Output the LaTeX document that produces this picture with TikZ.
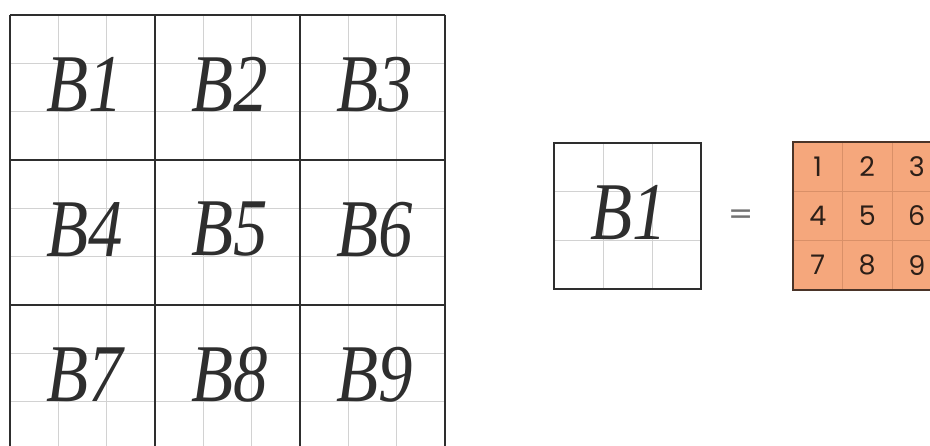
\documentclass[tikz,border=0pt]{standalone}
\usepackage{fontspec}
\newfontfamily\digitfont{Poppins}
\newfontfamily\eqfont{DejaVu Sans}
\newfontfamily\bfont{Liberation Serif}
\definecolor{gridline}{HTML}{2E2E2E}
\definecolor{subline}{HTML}{D2D2D2}
\definecolor{cellorange}{HTML}{F5A77C}
\definecolor{orangeline}{HTML}{D99068}
\definecolor{brownline}{HTML}{4A3428}
\tikzset{
  bigtext/.style={font=\bfont\itshape\fontsize{82}{84}\selectfont, text=black!82, inner sep=0pt},
  digit/.style={font=\digitfont\fontsize{27}{29}\selectfont, text=brownline!60!black, inner sep=0pt},
  thickgrid/.style={draw=gridline, line width=2pt},
  thingrid/.style={draw=subline, line width=1pt},
}
\begin{document}
\begin{tikzpicture}[x=1pt,y=-1pt]
\useasboundingbox (0,0) rectangle (930,446);
\fill[white] (0,0) rectangle (930,446);
\clip (0,0) rectangle (930,446);
% ---- big 3x3 grid ----
\def\cs{145}
\foreach \k in {1,2,4,5,7,8} {
  \draw[thingrid] ({10+\k*\cs/3}, 15) -- ({10+\k*\cs/3}, 450);
  \draw[thingrid] (10, {15+\k*\cs/3}) -- (445, {15+\k*\cs/3});
}
\foreach \k in {0,1,2,3} {
  \draw[thickgrid] ({10+\k*\cs}, 15) -- ({10+\k*\cs}, 450);
  \draw[thickgrid] (10, {15+\k*\cs}) -- (445, {15+\k*\cs});
}
\foreach \r in {0,1,2} {
  \foreach \c in {0,1,2} {
    \pgfmathtruncatemacro{\n}{\r*3+\c+1}
    \node[bigtext] (B\n) at ({12+\c*\cs+\cs/2}, {12+\r*\cs+\cs/2}) {\scalebox{0.84}[1]{B\n}};
  }
}
% ---- single B1 box ----
\foreach \k in {1,2} {
  \draw[thingrid] ({554+\k*147/3}, 143) -- ({554+\k*147/3}, 289);
  \draw[thingrid] (554, {143+\k*146/3}) -- (701, {143+\k*146/3});
}
\draw[draw=gridline, line width=2.5pt] (554,143) rectangle (701,289);
\node[bigtext] (single) at (629,213) {\scalebox{0.84}[1]{B1}};
% ---- equals ----
\node[font=\eqfont\fontsize{30}{30}\selectfont, text=black!55, inner sep=0pt] (eq) at (741,217) {=};
% ---- orange 3x3 ----
\fill[cellorange] (793,142) rectangle (942,290);
\foreach \k in {1,2} {
  \draw[draw=orangeline, line width=0.8pt] ({793+\k*49.5}, 142) -- ({793+\k*49.5}, 290);
  \draw[draw=orangeline, line width=0.8pt] (793, {142+\k*49.3}) -- (942, {142+\k*49.3});
}
\draw[draw=brownline, line width=2.5pt] (793,142) rectangle (942,290);
\foreach \r in {0,1,2} {
  \foreach \c in {0,1,2} {
    \pgfmathtruncatemacro{\n}{\r*3+\c+1}
    \node[digit] (d\n) at ({793+\c*49.5+24.75}, {142+\r*49.3+24.65}) {\n};
  }
}
\end{tikzpicture}
\end{document}
